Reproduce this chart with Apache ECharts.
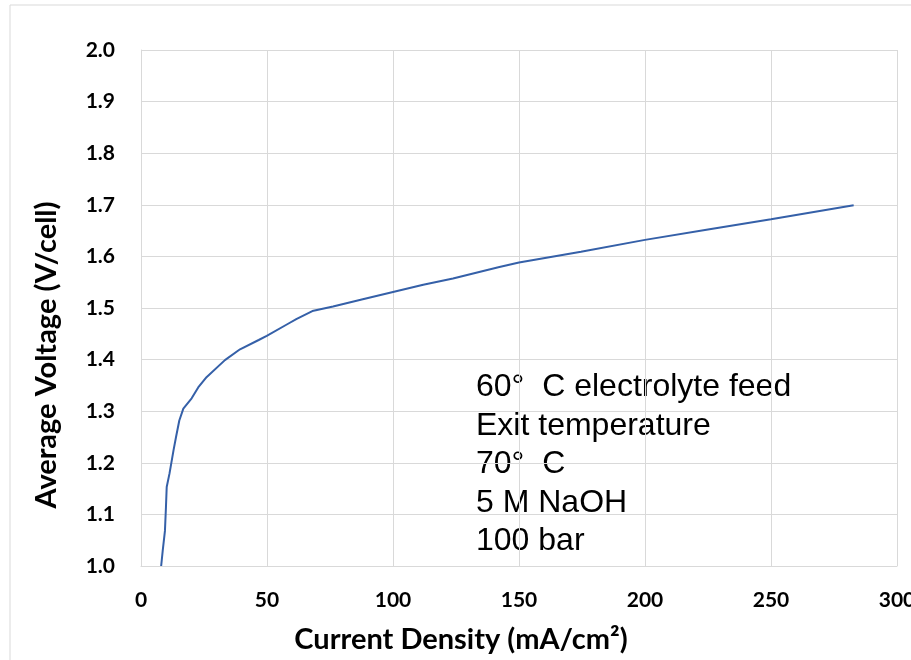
<!DOCTYPE html>
<html>
<head>
<meta charset="utf-8">
<script src="https://cdn.jsdelivr.net/npm/echarts@6/dist/echarts.min.js"></script>
<style>
html,body{margin:0;padding:0;background:#fff;}
#chart_iv{width:911px;height:660px;}
</style>
</head>
<body>
<div id="chart_iv"></div>
<script>
// current density (mA/cm2) and average cell voltage
var currentDensity = [8.0, 8.6, 9.5, 9.9, 10.2, 11.3, 12.9, 13.9, 15.2, 16.8, 20.1, 22.7, 26.0, 33.3, 39.3, 46.7, 49.9, 58.2, 61.8, 68, 76.2, 88, 100, 112, 123.8, 141.8, 150, 174.6, 200, 225, 250, 282.8];
var avgVoltage = [1.000, 1.029, 1.068, 1.114, 1.153, 1.179, 1.224, 1.250, 1.282, 1.305, 1.325, 1.346, 1.366, 1.399, 1.420, 1.438, 1.446, 1.469, 1.479, 1.494, 1.503, 1.517, 1.531, 1.545, 1.557, 1.579, 1.588, 1.609, 1.632, 1.652, 1.672, 1.699];
var noteLines = ['60°  C electrolyte feed', 'Exit temperature', '70°  C', '5 M NaOH', '100 bar'];
var xTitle = 'Current Density (mA/cm²)';
var yTitle = 'Average Voltage (V/cell)';

var points = [];
for (var i = 0; i < currentDensity.length; i++) {
	points.push([currentDensity[i], avgVoltage[i]]);
}

var titleFont = 'bold 29px Lato, sans-serif';
// plain axisLabel.fontSize was ignored here, so tick text goes through rich
var tickStyle = {fontFamily: 'Lato, sans-serif', fontWeight: 'bold', fontSize: 21, color: '#000'};
var myChart = echarts.init(document.getElementById('chart_iv'));
var option = {
	animation: false,
	backgroundColor: '#fff',
	grid: {left: 141, right: 14, top: 50, bottom: 94, containLabel: false, outerBoundsMode: 'none'},
	graphic: [
		{   // chart frame like the spreadsheet one
			type: 'rect',
			shape: {x: 10, y: 5, width: 940, height: 700},
			style: {fill: 'none', stroke: '#d9d9d9', lineWidth: 1},
			z: -1
		},
		{
			type: 'text',
			x: 476,
			y: 368,
			style: {
				text: noteLines.join('\n'),
				font: '32px "Liberation Sans", Arial, sans-serif',
				lineHeight: 38.5,
				fill: '#000'
			}
		},
		{
			type: 'text',
			x: 461,
			y: 640,
			style: {text: xTitle, font: titleFont, fill: '#000', align: 'center', verticalAlign: 'middle'}
		},
		{
			type: 'text',
			x: 47,
			y: 355,
			rotation: Math.PI / 2,
			style: {text: yTitle, font: titleFont, fill: '#000', align: 'center', verticalAlign: 'middle'}
		}
	],
	xAxis: {
		type: 'value',
		min: 0,
		max: 300,
		interval: 50,
		axisLine: {show: true, lineStyle: {color: '#d9d9d9'}},
		axisTick: {show: false},
		axisLabel: {
			margin: 24,
			formatter: '{t|{value}}',
			rich: {t: tickStyle}
		},
		splitLine: {show: true, lineStyle: {color: '#d9d9d9', width: 1}}
	},
	yAxis: {
		type: 'value',
		min: 1.0,
		max: 2.0,
		interval: 0.1,
		axisLine: {show: true, lineStyle: {color: '#d9d9d9'}},
		axisTick: {show: false},
		axisLabel: {
			margin: 26,
			formatter: function (v) { return '{t|' + v.toFixed(1) + '}'; },
			rich: {t: tickStyle}
		},
		splitLine: {show: true, lineStyle: {color: '#d9d9d9', width: 1}}
	},
	series: [
		{
			type: 'line',
			data: points,
			showSymbol: false,
			lineStyle: {color: '#3560a8', width: 2},
			itemStyle: {color: '#3560a8'}
		}
	]
};
myChart.setOption(option);
</script>
</body>
</html>
